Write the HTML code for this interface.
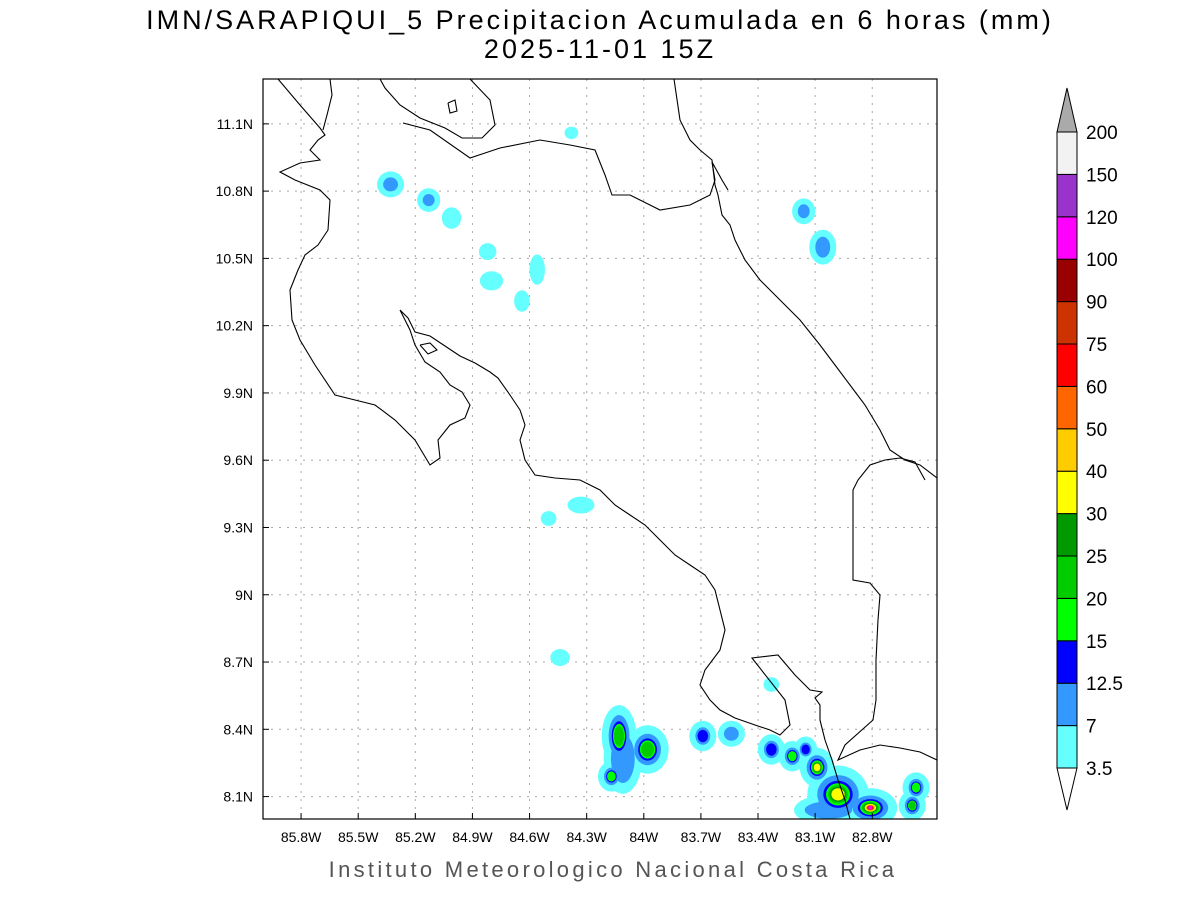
<!DOCTYPE html>
<html><head><meta charset="utf-8"><style>
body{margin:0;background:#fff;}
svg{display:block;font-family:"Liberation Sans",sans-serif;}
</style></head><body>
<svg id="chart" width="1200" height="900" viewBox="0 0 1200 900">
<text x="600" y="29" font-size="27" text-anchor="middle" style="letter-spacing:3px">IMN/SARAPIQUI_5 Precipitacion Acumulada en 6 horas (mm)</text>
<text x="600" y="58" font-size="27" text-anchor="middle" style="letter-spacing:3px">2025-11-01 15Z</text>
<defs><clipPath id="clip"><rect x="263" y="79" width="674" height="740"/></clipPath></defs>
<g id="grid"></g>
<g id="blobs" clip-path="url(#clip)"></g>
<g id="coast" clip-path="url(#clip)" fill="none" stroke="#000" stroke-width="1.1">
<polyline points="278,79 300,105 320,128 325,135 318,140 310,150 320,160 300,163 280,172 295,180 320,190 330,200 328,230 318,245 305,255 298,270 290,290 292,320 300,340 315,365 335,395 355,400 375,405 395,420 415,440 430,465 440,458 438,440 450,425 465,418 470,405 462,392 450,385 440,372 425,362 415,345 410,330 400,310 408,318 415,332 430,336 445,346 460,356 475,363 490,372 498,378 510,395 520,410 525,425 520,440 525,460 535,475 555,478 580,480 600,490 615,505 630,515 645,525 660,540 675,555 690,565 705,575 715,590 720,610 725,630 720,650 705,670 700,685 710,700 720,710 735,718 755,725 770,730 780,735 790,725 785,700 752,658 778,655 795,675 810,690 822,692 815,698 820,705 820,720 825,740 832,760 838,780 845,800 850,819"/>
<polyline points="674,79 680,120 690,140 700,150 712,160 715,185 718,195 722,215 730,225 735,240 745,260 760,280 780,300 800,320 820,345 835,365 850,385 865,405 880,430 890,450 905,460 920,465 937,478"/>
<polyline points="403,123 430,130 470,158 500,148 540,140 570,145 595,150 605,175 612,195 630,195 660,210 690,205 710,195 715,180 712,162 722,180 728,190"/>
<polyline points="470,79 490,100 495,125 482,138 462,138 445,128 420,118 400,105 385,88 380,79"/>
<polyline points="330,79 332,95 327,115 323,130"/>
<polyline points="448,103 455,100 457,111 450,113 448,103"/>
<polyline points="420,345 430,343 437,350 428,354 420,345"/>
<polyline points="925,480 915,462 900,458 885,460 870,465 858,480 853,490 853,580 870,583 880,595 878,620 876,660 876,700 873,720 845,745 838,760 860,750 880,745 900,748 920,752 937,760"/>
</g>
<rect x="263" y="79" width="674" height="740" fill="none" stroke="#000" stroke-width="1.2"/>
<g id="axes"></g>
<g id="cbar"></g>
<text x="613" y="877" font-size="22" text-anchor="middle" fill="#555" style="letter-spacing:3.3px">Instituto Meteorologico Nacional Costa Rica</text>
</svg>
<script>
const lonTicks=[-85.8,-85.5,-85.2,-84.9,-84.6,-84.3,-84.0,-83.7,-83.4,-83.1,-82.8];
const lonLabels=["85.8W","85.5W","85.2W","84.9W","84.6W","84.3W","84W","83.7W","83.4W","83.1W","82.8W"];
const latTicks=[11.1,10.8,10.5,10.2,9.9,9.6,9.3,9.0,8.7,8.4,8.1];
const latLabels=["11.1N","10.8N","10.5N","10.2N","9.9N","9.6N","9.3N","9N","8.7N","8.4N","8.1N"];
const levelLabels=["3.5","7","12.5","15","20","25","30","40","50","60","75","90","100","120","150","200"];
const levelColors=["#66ffff","#3399ff","#0000ff","#00ff00","#00cc00","#009900","#ffff00","#ffcc00","#ff6600","#ff0000","#cc3300","#990000","#ff00ff","#9933cc","#f2f2f2"];
const blobLon=[-85.33,-85.13,-85.01,-84.82,-84.80,-84.56,-84.64,-84.38,-84.33,-84.50,-84.44,-83.33,-83.16,-83.06,-84.13,-84.17,-83.98,-83.69,-83.54,-83.33,-83.22,-83.15,-83.09,-82.98,-82.81,-82.57,-82.59,-84.11,-83.03];
const blobLat=[10.83,10.76,10.68,10.53,10.40,10.45,10.31,11.06,9.40,9.34,8.72,8.60,10.71,10.55,8.37,8.19,8.31,8.37,8.38,8.31,8.28,8.31,8.23,8.11,8.05,8.14,8.06,8.27,8.04];
const blobRx=[0.05,0.04,0.03,0.025,0.04,0.02,0.02,0.015,0.05,0.02,0.03,0.02,0.04,0.05,0.07,0.05,0.09,0.05,0.05,0.05,0.05,0.04,0.07,0.14,0.12,0.05,0.05,0.08,0.16];
const blobRy=[0.04,0.035,0.03,0.02,0.025,0.05,0.03,0.01,0.02,0.015,0.02,0.015,0.04,0.06,0.12,0.05,0.09,0.05,0.04,0.05,0.05,0.04,0.07,0.11,0.07,0.05,0.05,0.14,0.05];
const blobMax=[2,2,1,1,1,1,1,1,1,1,1,1,2,2,5,4,5,3,2,3,4,3,7,7,13,4,5,2,2];
const NS="http://www.w3.org/2000/svg";
const X0=263,X1=937,Y0=79,Y1=819,LON0=-86.0,LON1=-82.46,LAT0=8.0,LAT1=11.3;
function xs(lon){return X0+(lon-LON0)/(LON1-LON0)*(X1-X0);}
function ys(lat){return Y1-(lat-LAT0)/(LAT1-LAT0)*(Y1-Y0);}
function mk(tag,attrs,parent){const e=document.createElementNS(NS,tag);for(const k in attrs)e.setAttribute(k,attrs[k]);parent.appendChild(e);return e;}
const grid=document.getElementById('grid'),axes=document.getElementById('axes');
lonTicks.forEach((v,i)=>{const x=xs(v);
 const l=mk('line',{x1:x,x2:x,y1:Y0,y2:Y1,stroke:'#aaa','stroke-dasharray':'2,6'},grid);
 
 
 const t=mk('line',{x1:x,x2:x,y1:Y1,y2:Y1-6,stroke:'#000'},axes);
 
 
 const tx=mk('text',{x:x,y:842,'font-size':14,'text-anchor':'middle'},axes);tx.textContent=lonLabels[i];
 
 
});
latTicks.forEach((v,i)=>{const y=ys(v);
 const l=mk('line',{x1:X0,x2:X1,y1:y,y2:y,stroke:'#aaa','stroke-dasharray':'2,6'},grid);
 
 
 const t=mk('line',{x1:X0,x2:X0+6,y1:y,y2:y,stroke:'#000'},axes);
 
 
 const tx=mk('text',{x:253,y:y+5,'font-size':14,'text-anchor':'end'},axes);tx.textContent=latLabels[i];
 
 
});
const bg=document.getElementById('blobs');
const order=blobLon.map((_,i)=>i).sort((a,b)=>blobMax[a]-blobMax[b]);
for(let k=0;k<14;k++){
 order.forEach(i=>{
  const n=blobMax[i]; if(k>=n) return;
  const cx=xs(blobLon[i]),cy=ys(blobLat[i]);
  const rx=(xs(blobLon[i]+blobRx[i])-cx),ry=(cy-ys(blobLat[i]+blobRy[i]));
  const f=k===0?1:k===1?0.78:0.55*Math.pow(0.82,k-2);
  const pad=k===0?4:0;
  const e=mk('ellipse',{cx:cx,cy:cy,rx:Math.max(2,rx*f+pad),ry:Math.max(2,ry*f+pad),fill:levelColors[k]},bg);
  
  
 });
}
const cb=document.getElementById('cbar');
const CBX=1057,CBW=20,STEP=(768-132)/15;
levelColors.forEach((c,i)=>{const yb=768-i*STEP;
 const r=mk('rect',{x:CBX,y:yb-STEP,width:CBW,height:STEP,fill:c,stroke:'#000','stroke-width':1},cb);
 
 
});
const tt=mk('polygon',{points:`${CBX},132 ${CBX+CBW},132 ${CBX+CBW/2},88`,fill:'#aaa',stroke:'#000'},cb);


const tb=mk('polygon',{points:`${CBX},768 ${CBX+CBW},768 ${CBX+CBW/2},810`,fill:'#fff',stroke:'#000'},cb);


levelLabels.forEach((s,i)=>{const y=768-i*STEP;
 const t=mk('text',{x:1086,y:y+7,'font-size':19},cb);t.textContent=s;
 
 
});
</script>
</body></html>
